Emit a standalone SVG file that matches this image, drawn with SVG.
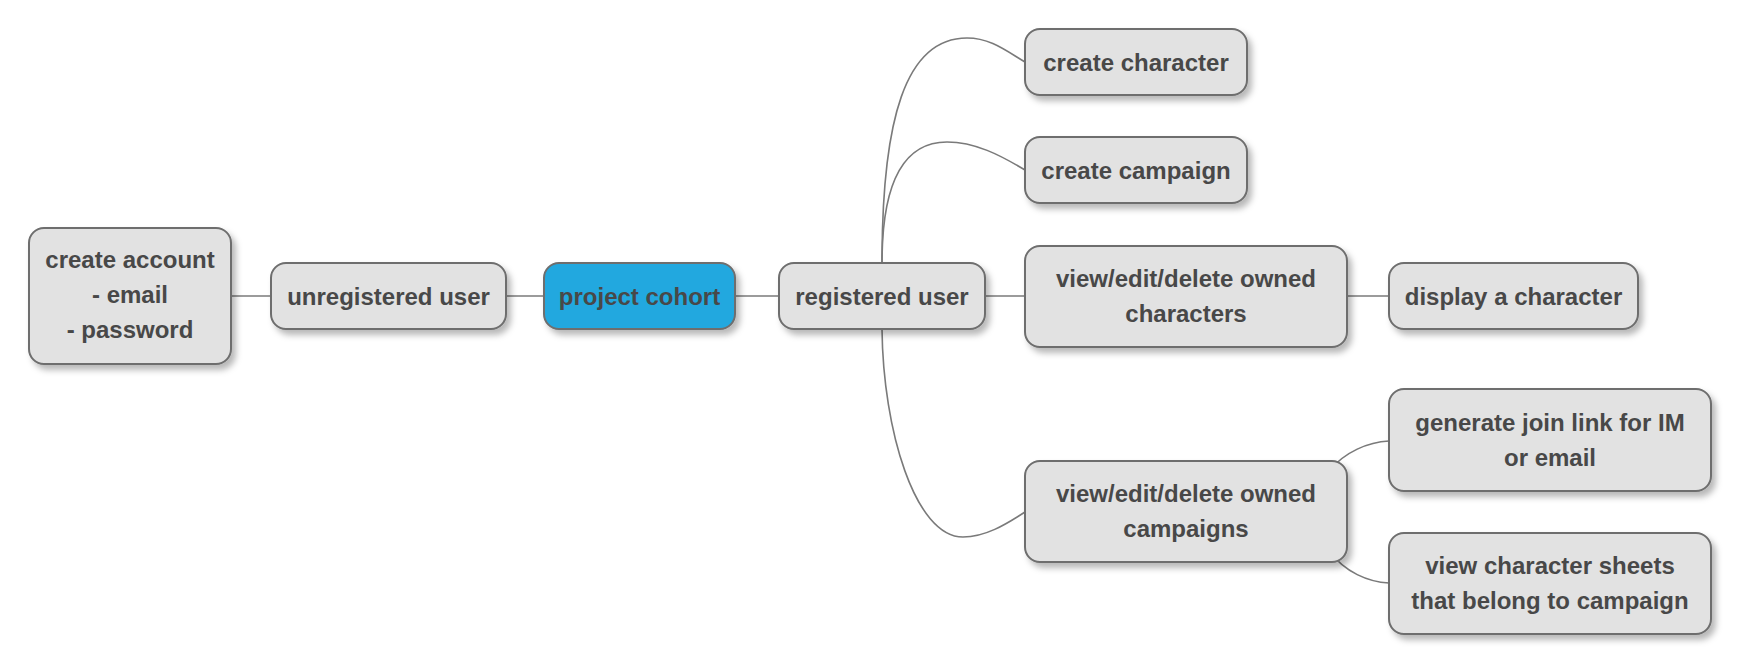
<svg xmlns="http://www.w3.org/2000/svg" width="1742" height="666" viewBox="0 0 1742 666">
<style>
.n{fill:#E2E2E2;stroke:#6E6E6E;stroke-width:2;filter:url(#sh)}
.root{fill:#23A8DF}
.t{font-family:"Liberation Sans",Arial,sans-serif;font-weight:bold;font-size:24px;fill:#484848;text-anchor:middle}
.c{fill:none;stroke:#7A7A7A;stroke-width:1.6}
</style>
<defs>
<filter id="sh" x="-20%" y="-20%" width="150%" height="150%">
<feDropShadow dx="4" dy="5" stdDeviation="3" flood-color="#000" flood-opacity="0.28"/>
</filter>
</defs>
<rect width="1742" height="666" fill="#FFFFFF"/>
<g id="connectors">
<path class="c" d="M231,296 H271"/>
<path class="c" d="M506,296 H544"/>
<path class="c" d="M735,296 H779"/>
<path class="c" d="M985,296 H1025"/>
<path class="c" d="M1347,296 H1389"/>
<path class="c" d="M882,263 C882,120 905,38 967,38 C990,38 1005,50 1025,62"/>
<path class="c" d="M882,263 C882,190 900,142 947,142 C975,142 1000,155 1025,170"/>
<path class="c" d="M882,329 C883,430 915,537 963,537 C985,537 1005,525 1025,512"/>
<path class="c" d="M1330,470 C1345,452 1368,442 1389,441"/>
<path class="c" d="M1330,552 C1345,572 1368,582 1389,583"/>
</g>
<g id="create-account">
<rect class="n" x="29" y="228" width="202" height="136" rx="15"/>
<text class="t" x="130" y="268">create account</text>
<text class="t" x="130" y="303">- email</text>
<text class="t" x="130" y="338">- password</text>
</g>
<g id="unregistered-user">
<rect class="n" x="271" y="263" width="235" height="66" rx="15"/>
<text class="t" x="388.5" y="305">unregistered user</text>
</g>
<g id="project-cohort">
<rect class="n root" x="544" y="263" width="191" height="66" rx="15"/>
<text class="t" x="639.5" y="305">project cohort</text>
</g>
<g id="registered-user">
<rect class="n" x="779" y="263" width="206" height="66" rx="15"/>
<text class="t" x="882" y="305">registered user</text>
</g>
<g id="create-character">
<rect class="n" x="1025" y="29" width="222" height="66" rx="15"/>
<text class="t" x="1136" y="71">create character</text>
</g>
<g id="create-campaign">
<rect class="n" x="1025" y="137" width="222" height="66" rx="15"/>
<text class="t" x="1136" y="179">create campaign</text>
</g>
<g id="owned-characters">
<rect class="n" x="1025" y="246" width="322" height="101" rx="15"/>
<text class="t" x="1186" y="287">view/edit/delete owned</text>
<text class="t" x="1186" y="322">characters</text>
</g>
<g id="display-character">
<rect class="n" x="1389" y="263" width="249" height="66" rx="15"/>
<text class="t" x="1513.5" y="305">display a character</text>
</g>
<g id="owned-campaigns">
<rect class="n" x="1025" y="461" width="322" height="101" rx="15"/>
<text class="t" x="1186" y="502">view/edit/delete owned</text>
<text class="t" x="1186" y="537">campaigns</text>
</g>
<g id="join-link">
<rect class="n" x="1389" y="389" width="322" height="102" rx="15"/>
<text class="t" x="1550" y="431">generate join link for IM</text>
<text class="t" x="1550" y="466">or email</text>
</g>
<g id="character-sheets">
<rect class="n" x="1389" y="533" width="322" height="101" rx="15"/>
<text class="t" x="1550" y="574">view character sheets</text>
<text class="t" x="1550" y="609">that belong to campaign</text>
</g>
</svg>
